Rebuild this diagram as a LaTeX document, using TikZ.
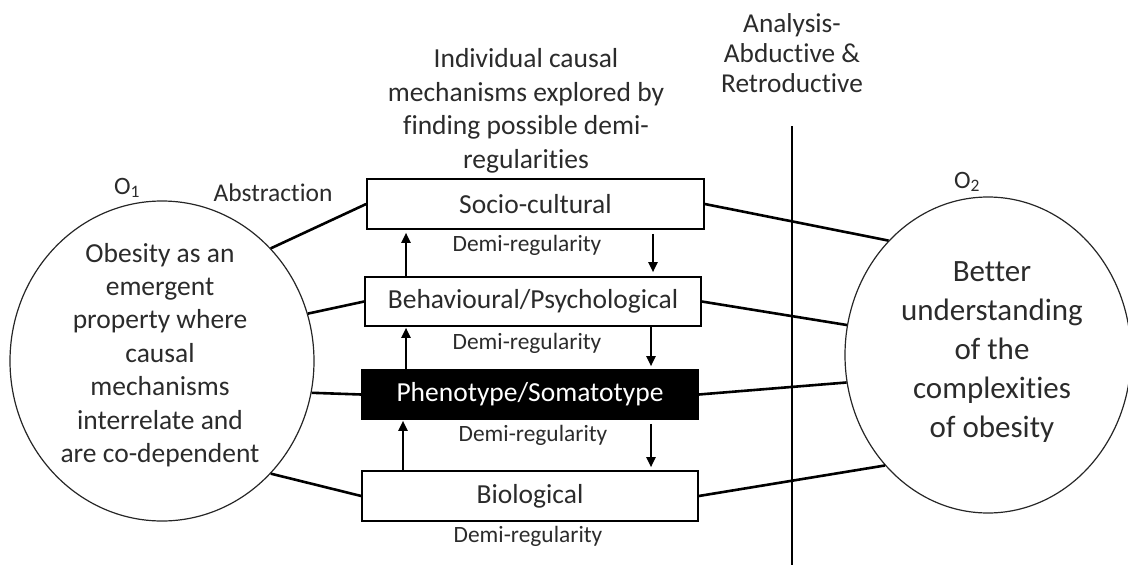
\documentclass[tikz,border=0pt]{standalone}
\usepackage{fontspec}
\setmainfont{Carlito}[Ligatures={NoCommon,NoContextual,NoRequired},Contextuals=NoAlternate]
\usetikzlibrary{shapes.geometric,arrows.meta}
\definecolor{txt}{HTML}{2B2B2B}
\begin{document}
\begin{tikzpicture}[x=1pt,y=-1pt,
  every node/.style={text=txt},
  box/.style={draw=black, line width=1.6pt, minimum width=336pt, minimum height=49pt, inner sep=0pt, font=\fontsize{27.5}{33}\selectfont},
  circ/.style={draw=black!85, ellipse, line width=1.2pt, inner sep=0pt},
  conn/.style={line width=2.6pt},
  arr/.style={line width=2.1pt, -{Triangle[length=10pt,width=9pt]}},
  demi/.style={font=\fontsize{23.4}{28}\selectfont, inner sep=0pt},
  lbl/.style={inner sep=0pt, align=center},
  divider/.style={line width=2.6pt}]
\useasboundingbox (0,0) rectangle (1128,565);

% circles
\node[circ, minimum width=304pt, minimum height=320pt] (c1) at (162,361) {};
\node[lbl, font=\fontsize{27.5}{33.4}\selectfont] (t1) at (160,355)
  {Obesity as an\\emergent\\property where\\causal\\mechanisms\\interrelate and\\are co-dependent};
\node[circ, minimum width=286pt, minimum height=316pt] (c2) at (988,355) {};
\node[lbl, font=\fontsize{31}{39}\selectfont] (t2) at (992,352)
  {Better\\understanding\\of the\\complexities\\of obesity};

% labels
\node[lbl, font=\fontsize{25}{30}\selectfont] (o1) at (127,188) {O\textsubscript{1}};
\node[lbl, font=\fontsize{25}{30}\selectfont] (o2) at (967,182) {O\textsubscript{2}};
\node[lbl, font=\fontsize{25.5}{30}\selectfont] (abs) at (273,193) {Abstraction};
\node[lbl, font=\fontsize{27.5}{33.5}\selectfont] (top) at (526,111)
  {Individual causal\\mechanisms explored by\\finding possible demi-\\regularities};
\node[lbl, font=\fontsize{27.3}{30}\selectfont] (ana) at (792,53)
  {Analysis-\\Abductive \&\\Retroductive};

% boxes
\node[box, minimum width=337pt, minimum height=50pt] (soc) at (535.5,204) {Socio-cultural};
\node[box] (beh) at (533,301.5) {Behavioural/Psychological};
\node[box, fill=black, text=white] (phe) at (530,394.5) {Phenotype/Somatotype};
\node[box, minimum height=50pt] (bio) at (530,496) {Biological};

% demi-regularity labels
\node[demi] (d1) at (527,245) {Demi-regularity};
\node[demi] (d2) at (527,343) {Demi-regularity};
\node[demi] (d3) at (533,435) {Demi-regularity};
\node[demi] (d4) at (528,536) {Demi-regularity};

% vertical divider
\coordinate (vtop) at (792,126);
\coordinate (vbot) at (792,565);
\draw[divider] (vtop) -- (vbot);

% connectors left
\draw[conn] (c1.46) -- (soc.west);
\draw[conn] (c1.18) -- (beh.west);
\draw[conn] (c1.-12.5) -- (phe.west);
\draw[conn] (c1.-46.5) -- (bio.west);
% connectors right
\draw[conn] (soc.east) -- (c2.131.3);
\draw[conn] (beh.east) -- (c2.168.6);
\draw[conn] (phe.east) -- (c2.191.4);
\draw[conn] (bio.east) -- (c2.227.4);

% arrows
\coordinate (ua) at (406,0);
\coordinate (ub) at (403,0);
\coordinate (da) at (653,0);
\coordinate (db) at (651,0);
\draw[arr] (beh.north -| ua) -- ([yshift=-3pt]soc.south -| ua);
\draw[arr] (phe.north -| ua) -- ([yshift=-1pt]beh.south -| ua);
\draw[arr] (bio.north -| ub) -- ([yshift=-1pt]phe.south -| ub);
\draw[arr] ([yshift=-4pt]soc.south -| da) -- ([yshift=4pt]beh.north -| da);
\draw[arr] (beh.south -| db) -- ([yshift=3pt]phe.north -| db);
\draw[arr] ([yshift=-4pt]phe.south -| db) -- ([yshift=3pt]bio.north -| db);
\end{tikzpicture}
\end{document}
